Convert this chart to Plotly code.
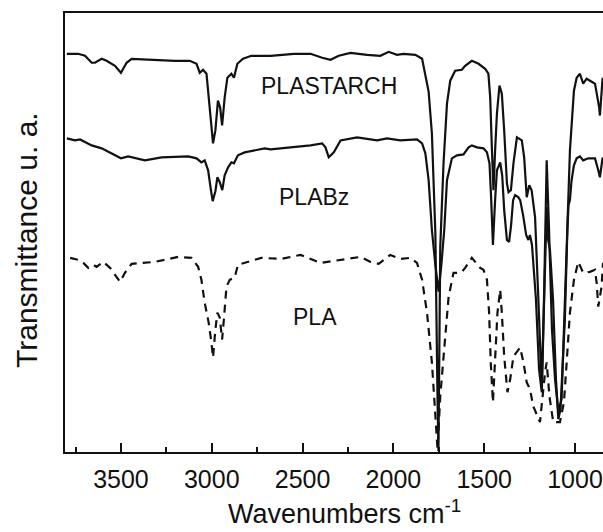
import plotly.graph_objects as go

# ---------------- data (wavenumber cm-1, transmittance a.u.) ----------------
plastarch_wn = [3798, 3736, 3698, 3661, 3643, 3606, 3579, 3533, 3500, 3469, 3441, 3331, 3203, 3121,
                3084, 3066, 3048, 3029, 3017, 3002, 2993, 2980, 2966, 2954, 2943, 2929, 2914, 2892,
                2878, 2859, 2828, 2782, 2709, 2676, 2548, 2456, 2392, 2346, 2301, 2236, 2145, 2072,
                2026, 1980, 1944, 1879, 1842, 1824, 1806, 1788, 1769, 1757, 1752, 1742, 1724, 1705,
                1687, 1660, 1623, 1605, 1568, 1531, 1495, 1477, 1467, 1458, 1449, 1440, 1430, 1416,
                1403, 1390, 1375, 1366, 1353, 1339, 1320, 1293, 1280, 1266, 1252, 1239, 1220, 1204,
                1183, 1171, 1156, 1143, 1127, 1110, 1092, 1074, 1061, 1046, 1028, 1006, 991, 973,
                955, 936, 890, 867, 863, 848]
plastarch_t = [40.0, 40.0, 39.8, 39.1, 39.1, 39.5, 39.3, 38.8, 38.1, 39.1, 39.5, 39.4, 39.3, 39.3,
               39.0, 38.1, 38.4, 38.0, 35.6, 32.3, 31.0, 32.3, 35.3, 34.6, 32.8, 35.6, 37.6, 38.0,
               37.6, 39.0, 39.5, 39.8, 39.8, 39.8, 40.0, 40.0, 39.6, 39.4, 39.8, 40.1, 39.9, 39.8,
               40.2, 39.9, 40.0, 39.9, 39.5, 38.0, 36.2, 32.0, 22.0, 5.3, 0.1, 20.6, 29.0, 35.0,
               37.3, 38.3, 38.4, 38.8, 39.3, 39.0, 38.5, 38.0, 35.6, 30.6, 26.3, 30.3, 34.0, 36.8,
               36.0, 32.3, 27.0, 26.1, 26.3, 29.0, 31.6, 31.3, 29.6, 25.6, 26.8, 26.3, 23.6, 16.3,
               6.5, 15.3, 29.3, 22.3, 12.3, 7.3, 4.1, 5.3, 12.3, 20.3, 30.3, 36.3, 37.6, 38.0,
               37.0, 37.5, 37.0, 34.6, 33.8, 37.6]

plabz_wn = [3798, 3753, 3725, 3661, 3606, 3533, 3500, 3460, 3368, 3276, 3130, 3084, 3057, 3039,
            3020, 3007, 2995, 2980, 2969, 2956, 2942, 2929, 2910, 2892, 2878, 2856, 2819, 2709,
            2676, 2566, 2456, 2392, 2374, 2356, 2328, 2291, 2200, 2090, 2035, 1962, 1870, 1842,
            1824, 1806, 1788, 1769, 1751, 1736, 1720, 1705, 1678, 1650, 1614, 1586, 1568, 1540,
            1504, 1485, 1471, 1462, 1452, 1440, 1430, 1412, 1401, 1390, 1375, 1363, 1352, 1341,
            1330, 1313, 1302, 1286, 1269, 1257, 1248, 1237, 1215, 1198, 1183, 1173, 1162, 1156,
            1148, 1138, 1121, 1105, 1092, 1080, 1072, 1056, 1042, 1036, 1028, 1019, 1006, 991,
            973, 955, 927, 890, 872, 863, 848]
plabz_t = [31.5, 31.3, 31.4, 30.8, 30.5, 29.8, 29.5, 29.7, 29.3, 29.6, 29.7, 29.5, 29.1, 29.3,
           28.3, 26.6, 25.2, 26.2, 27.6, 27.1, 26.3, 27.8, 28.6, 29.1, 29.0, 29.8, 30.1, 30.5,
           30.4, 30.6, 30.8, 31.0, 30.6, 29.6, 30.1, 31.3, 31.6, 31.3, 31.5, 31.3, 31.4, 31.0,
           30.0, 27.3, 22.3, 18.8, 16.1, 18.8, 22.3, 27.3, 29.5, 29.8, 29.9, 30.6, 30.8, 30.6,
           30.5, 30.1, 29.0, 25.6, 20.8, 25.3, 28.3, 29.1, 27.8, 24.3, 21.3, 21.1, 22.8, 25.3,
           25.8, 25.6, 25.3, 23.8, 21.8, 21.3, 21.8, 20.8, 15.3, 8.3, 6.0, 13.3, 22.3, 24.6,
           21.3, 20.3, 15.3, 7.3, 3.3, 4.3, 7.3, 13.3, 22.3, 24.8, 25.3, 27.3, 28.8, 29.5,
           29.7, 29.3, 29.5, 29.5, 28.3, 27.6, 29.6]

pla_wn = [3780, 3735, 3707, 3680, 3652, 3634, 3597, 3560, 3505, 3478, 3441, 3313, 3185, 3112,
          3075, 3057, 3039, 3017, 3002, 2993, 2980, 2969, 2956, 2943, 2932, 2919, 2901, 2874,
          2856, 2819, 2727, 2617, 2526, 2511, 2401, 2291, 2181, 2126, 2081, 2017, 1962, 1907,
          1870, 1842, 1815, 1788, 1769, 1757, 1742, 1720, 1696, 1669, 1650, 1623, 1605, 1568,
          1550, 1522, 1504, 1485, 1473, 1464, 1452, 1440, 1427, 1412, 1403, 1390, 1372, 1357,
          1339, 1302, 1284, 1266, 1248, 1230, 1193, 1165, 1156, 1141, 1120, 1083, 1061, 1046,
          1028, 1006, 982, 955, 918, 890, 881, 872, 854, 846]
pla_t = [19.5, 19.3, 19.0, 18.5, 18.8, 18.6, 19.1, 18.5, 17.1, 18.0, 18.9, 19.1, 19.6, 19.5,
         18.6, 17.3, 15.0, 13.0, 11.0, 9.5, 12.3, 14.0, 13.5, 11.3, 13.6, 16.6, 17.3, 17.5,
         18.8, 19.0, 19.5, 19.4, 19.7, 19.8, 19.0, 19.3, 19.6, 19.1, 18.9, 19.8, 19.4, 19.5,
         19.0, 17.3, 14.0, 9.0, 4.0, 0.3, 5.6, 10.6, 15.6, 18.0, 18.0, 18.1, 18.5, 19.5,
         19.1, 18.5, 18.3, 17.3, 14.0, 9.0, 5.0, 9.0, 14.0, 16.3, 14.0, 9.6, 6.0, 7.3,
         9.6, 10.5, 9.0, 7.0, 6.3, 4.6, 3.0, 8.0, 9.0, 5.6, 3.0, 3.0, 5.0, 9.0,
         14.0, 17.3, 19.1, 18.0, 18.1, 18.3, 17.0, 14.6, 16.6, 19.0]

labels = ["PLASTARCH", "PLABz", "PLA"]
label_wn = [2357, 2437, 2429]
label_t = [36.8, 25.6, 13.6]

x_range = [3808, 846]
y_range = [0, 44.1]
x_ticks = [3500, 3000, 2500, 2000, 1500, 1000]
x_title = "Wavenumbers cm<sup>-1</sup>"
y_title = "Transmittance u. a."

FONT = "Liberation Sans, Arial, sans-serif"
INK = "#111111"

fig = go.Figure()
fig.add_trace(go.Scatter(x=plastarch_wn, y=plastarch_t, mode="lines", name=labels[0],
                         line=dict(color=INK, width=2.2)))
fig.add_trace(go.Scatter(x=plabz_wn, y=plabz_t, mode="lines", name=labels[1],
                         line=dict(color=INK, width=2.2)))
fig.add_trace(go.Scatter(x=pla_wn, y=pla_t, mode="lines", name=labels[2],
                         line=dict(color=INK, width=2.2, dash="8px,6px")))

for txt, xv, yv in zip(labels, label_wn, label_t):
    fig.add_annotation(x=xv, y=yv, text=txt, showarrow=False,
                       font=dict(family=FONT, size=23, color=INK),
                       xanchor="center", yanchor="middle")

# axis titles placed as annotations for precise positioning
fig.add_annotation(xref="paper", yref="paper", x=0.52, y=0, yshift=-60,
                   text=x_title, showarrow=False, xanchor="center", yanchor="middle",
                   font=dict(family=FONT, size=27, color=INK))
fig.add_annotation(xref="paper", yref="paper", x=0, xshift=-38, y=0.483,
                   text=y_title, showarrow=False, textangle=-90,
                   xanchor="center", yanchor="middle",
                   font=dict(family=FONT, size=30, color=INK))

fig.update_layout(
    width=603, height=532,
    margin=dict(l=65, r=0, t=13, b=80),
    paper_bgcolor="white", plot_bgcolor="white",
    showlegend=False,
    font=dict(family=FONT, color=INK),
)
fig.update_xaxes(
    range=x_range, tickvals=x_ticks, ticks="inside", ticklen=9, tickwidth=2, tickcolor=INK,
    minor=dict(dtick=250, ticks="inside", ticklen=5, tickwidth=1.5, tickcolor=INK),
    showline=True, linewidth=2, linecolor=INK, mirror=True, showgrid=False, zeroline=False,
    tickfont=dict(family=FONT, size=25, color=INK), ticklabelstandoff=4,
)
fig.update_yaxes(
    range=y_range, showticklabels=False, ticks="", showline=True, linewidth=2, linecolor=INK,
    showgrid=False, zeroline=False,
)

fig.write_html("out.html")
